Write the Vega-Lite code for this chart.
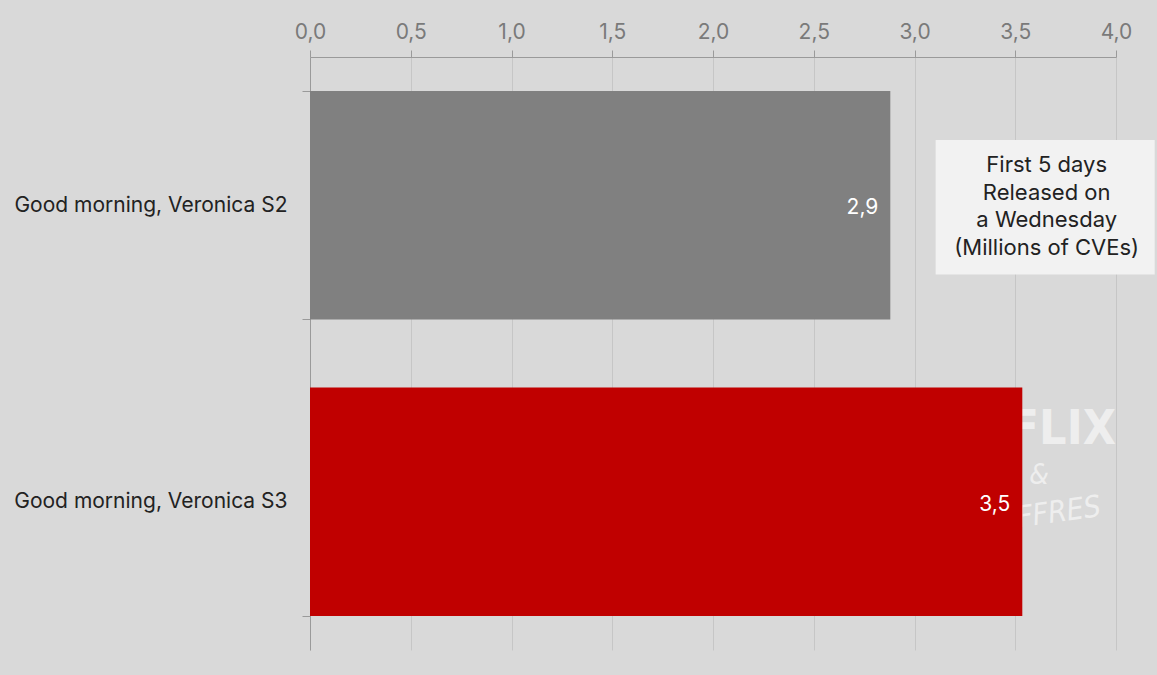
{
  "$schema": "https://vega.github.io/schema/vega-lite/v6.json",
  "width": 806,
  "height": 593,
  "autosize": "none",
  "padding": {"left": 310, "top": 57, "right": 41, "bottom": 25},
  "background": "#d9d9d9",
  "config": {
    "view": {"stroke": null},
    "font": "Inter",
    "locale": {"number": {"decimal": ",", "thousands": " ", "grouping": [3], "currency": ["", " €"]}}
  },
  "data": {
    "values": [
      {"show": "Good morning, Veronica S2", "value": 2.88},
      {"show": "Good morning, Veronica S3", "value": 3.535}
    ]
  },
  "encoding": {
    "y": {
      "field": "show",
      "type": "nominal",
      "sort": ["Good morning, Veronica S2", "Good morning, Veronica S3"],
      "scale": {"domain": ["Good morning, Veronica S2", "Good morning, Veronica S3"], "paddingInner": 0.23, "paddingOuter": 0.115},
      "axis": {
        "title": null,
        "labelFontSize": 21,
        "labelColor": "#222222",
        "labelPadding": 15,
        "labelLimit": 320,
        "tickSize": 8,
        "tickBand": "extent",
        "tickColor": "#9a9a9a",
        "domainColor": "#9a9a9a",
        "labelFont": "Inter"
      }
    }
  },
  "layer": [
    {
      "data": {"values": [{"show": "Good morning, Veronica S3", "wm": "NETFLIX"}]},
      "mark": {"type": "text", "align": "right", "baseline": "alphabetic", "font": "DejaVu Sans Condensed", "fontWeight": "bold", "fontSize": 48, "color": "#f4f4f4", "opacity": 0.8, "yOffset": -58},
      "encoding": {"x": {"datum": 4.0, "type": "quantitative"}, "text": {"field": "wm"}}
    },
    {
      "data": {"values": [{"show": "Good morning, Veronica S3", "wm": "&"}]},
      "mark": {"type": "text", "align": "left", "baseline": "alphabetic", "font": "DejaVu Sans Condensed", "fontStyle": "italic", "fontSize": 28, "color": "#f4f4f4", "opacity": 0.8, "yOffset": -18, "xOffset": 7},
      "encoding": {"x": {"datum": 3.535, "type": "quantitative"}, "text": {"field": "wm"}}
    },
    {
      "data": {"values": [{"show": "Good morning, Veronica S3", "wm": "CHIFFRES"}]},
      "mark": {"type": "text", "align": "right", "baseline": "alphabetic", "font": "DejaVu Sans Condensed", "fontStyle": "italic", "fontSize": 30, "color": "#f4f4f4", "opacity": 0.8, "yOffset": 14, "angle": 352},
      "encoding": {"x": {"datum": 3.93, "type": "quantitative"}, "text": {"field": "wm"}}
    },
    {
      "mark": {"type": "bar"},
      "encoding": {
        "x": {
          "field": "value",
          "type": "quantitative",
          "scale": {"domain": [0, 4], "nice": false},
          "axis": {
            "orient": "top",
            "title": null,
            "values": [0, 0.5, 1, 1.5, 2, 2.5, 3, 3.5, 4],
            "format": ".1f",
            "labelFlush": false,
            "labelFontSize": 21,
            "labelColor": "#7a7a7a",
            "labelPadding": 8,
            "tickSize": 7,
            "tickColor": "#9a9a9a",
            "domainColor": "#9a9a9a",
            "grid": true,
            "gridColor": "#c6c6c6",
            "labelFont": "Inter"
          }
        },
        "color": {
          "field": "show",
          "type": "nominal",
          "scale": {"domain": ["Good morning, Veronica S2", "Good morning, Veronica S3"], "range": ["#808080", "#c00000"]},
          "legend": null
        }
      }
    },
    {
      "mark": {"type": "text", "align": "right", "baseline": "middle", "dx": -12, "dy": 3, "fontSize": 21, "color": "#ffffff", "font": "Inter"},
      "encoding": {
        "x": {"field": "value", "type": "quantitative"},
        "text": {"field": "value", "type": "quantitative", "format": ".1f"}
      }
    },
    {
      "data": {"values": [{"show": "Good morning, Veronica S2", "x1": 3.105, "x2": 4.192}]},
      "mark": {"type": "bar", "color": "#f2f2f2", "height": {"band": 0.59}, "yOffset": 2},
      "encoding": {
        "x": {"field": "x1", "type": "quantitative"},
        "x2": {"field": "x2"}
      }
    },
    {
      "data": {"values": [{"show": "Good morning, Veronica S2", "xc": 3.656, "note": "First 5 days\nReleased on\na Wednesday\n(Millions of CVEs)"}]},
      "mark": {"type": "text", "align": "center", "baseline": "middle", "lineBreak": "\n", "lineHeight": 27.5, "fontSize": 22, "color": "#222222", "font": "Inter", "dy": -40},
      "encoding": {
        "x": {"field": "xc", "type": "quantitative"},
        "text": {"field": "note"}
      }
    }
  ]
}
